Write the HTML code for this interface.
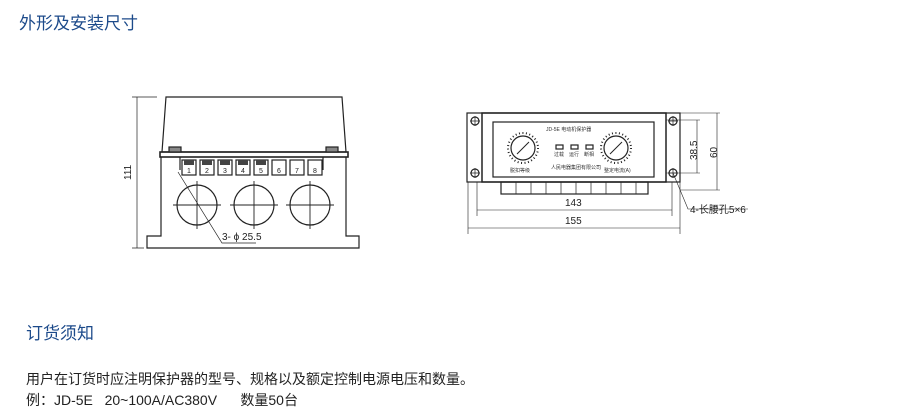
<!DOCTYPE html>
<html><head><meta charset="utf-8"><style>
body{margin:0;width:920px;height:415px;background:#fff;overflow:hidden;position:relative;font-family:"Liberation Sans","Noto Sans CJK SC",sans-serif}
.t{position:absolute;white-space:nowrap}
</style></head><body>
<div class="t" style="left:19px;top:9px;font-size:17px;color:#1c4a8a">外形及安装尺寸</div>
<div class="t" style="left:26px;top:319px;font-size:17px;color:#1c4a8a">订货须知</div>
<div class="t" style="left:26px;top:369px;font-size:14px;color:#222">用户在订货时应注明保护器的型号、规格以及额定控制电源电压和数量。</div>
<div class="t" style="left:26px;top:390px;font-size:14px;color:#222">例：JD-5E&nbsp;&nbsp; 20~100A/AC380V&nbsp;&nbsp;&nbsp;&nbsp;&nbsp; 数量50台</div>
<svg width="920" height="415" style="position:absolute;left:0;top:0" font-family="Liberation Sans,Noto Sans CJK SC,sans-serif">
<g stroke="#222" fill="none" stroke-width="1.2">
<path d="M166 97 L342 97 L346 152 L162 152 Z"/>
<rect x="160" y="152" width="188" height="5" stroke-width="1.6"/>
<rect x="169" y="147" width="12" height="5" fill="#888"/><rect x="326" y="147" width="12" height="5" fill="#888"/>
<path d="M161 157 L161 236 L147 236 L147 248 L359 248 L359 236 L346 236 L346 157"/>
<path d="M180 157 L180 170 M323 157 L323 170"/>
<rect x="182" y="160" width="14" height="15"/><rect x="200" y="160" width="14" height="15"/><rect x="218" y="160" width="14" height="15"/><rect x="236" y="160" width="14" height="15"/><rect x="254" y="160" width="14" height="15"/><rect x="272" y="160" width="14" height="15"/><rect x="290" y="160" width="14" height="15"/><rect x="308" y="160" width="14" height="15"/>
<g fill="#444" stroke="none"><rect x="184" y="160" width="10" height="5"/><rect x="202" y="160" width="10" height="5"/><rect x="220" y="160" width="10" height="5"/><rect x="238" y="160" width="10" height="5"/><rect x="256" y="160" width="10" height="5"/></g>
<circle cx="197" cy="205" r="20"/><circle cx="254" cy="205" r="20"/><circle cx="310" cy="205" r="20"/>
<path d="M173 205h48M197 181v48M230 205h48M254 181v48M286 205h48M310 181v48" stroke-width="0.9"/>
<path d="M178 172 L222 243 L256 243" stroke-width="0.7"/>
<path d="M137 97v151M132 97h25M132 248h12" stroke-width="0.7"/>
<rect x="467" y="113" width="213" height="69"/>
<rect x="482" y="113" width="184" height="69" stroke-width="1.5"/>
<rect x="493" y="122" width="161" height="55"/>
<rect x="501" y="182" width="147" height="12"/>
<path d="M516 182v12M531 182v12M546 182v12M561 182v12M576 182v12M591 182v12M606 182v12M621 182v12M636 182v12" stroke-width="0.7"/>
<circle cx="475" cy="121" r="4"/><circle cx="475" cy="173" r="4"/><circle cx="673" cy="121" r="4"/><circle cx="673" cy="173" r="4"/>
<path d="M470 121h10M475 116v10M470 173h10M475 168v10M668 121h10M673 116v10M668 173h10M673 168v10" stroke-width="0.7"/>
<circle cx="523" cy="148" r="12"/><circle cx="616" cy="148" r="12"/>
<circle cx="523" cy="148" r="15" stroke-dasharray="1 2.5" stroke-width="2"/><circle cx="616" cy="148" r="15" stroke-dasharray="1 2.5" stroke-width="2"/>
<path d="M517 154l12-12M610 154l12-12" stroke-width="1"/>
<rect x="556" y="145" width="7" height="4"/><rect x="571" y="145" width="7" height="4"/><rect x="586" y="145" width="7" height="4"/>
<g stroke-width="0.6">
<path d="M477 182v34M672 182v34M477 210h195M468 182v52M680 182v52M468 228h212"/>
<path d="M680 113h40M666 120h34M666 173h34M680 190h40M697 120v53M717 113v77"/>
<path d="M673 173 L688 209 L748 209"/>
</g>
</g>
<g font-size="7" fill="#222">
<text x="187" y="173">1</text><text x="205" y="173">2</text><text x="223" y="173">3</text><text x="241" y="173">4</text><text x="259" y="173">5</text><text x="277" y="173">6</text><text x="295" y="173">7</text><text x="313" y="173">8</text>
</g>
<text x="222" y="240" font-size="10" fill="#222">3- ϕ 25.5</text>
<text transform="translate(131,180) rotate(-90)" font-size="10" fill="#222">111</text>
<g font-size="5" fill="#333">
<text x="546" y="131">JD-5E 电动机保护器</text>
<text x="510" y="172">脱扣等级</text><text x="604" y="172">整定电流(A)</text>
<text x="554" y="156">过载</text><text x="569" y="156">运行</text><text x="584" y="156">断相</text>
<text x="551" y="169">人民电器集团有限公司</text>
</g>
<text x="565" y="206" font-size="10" fill="#222">143</text>
<text x="565" y="224" font-size="10" fill="#222">155</text>
<text transform="translate(697,160) rotate(-90)" font-size="10" fill="#222">38.5</text>
<text transform="translate(717,158) rotate(-90)" font-size="10" fill="#222">60</text>
<text x="690" y="213" font-size="10" fill="#222">4-长腰孔5×6</text>
</svg>
</body></html>
